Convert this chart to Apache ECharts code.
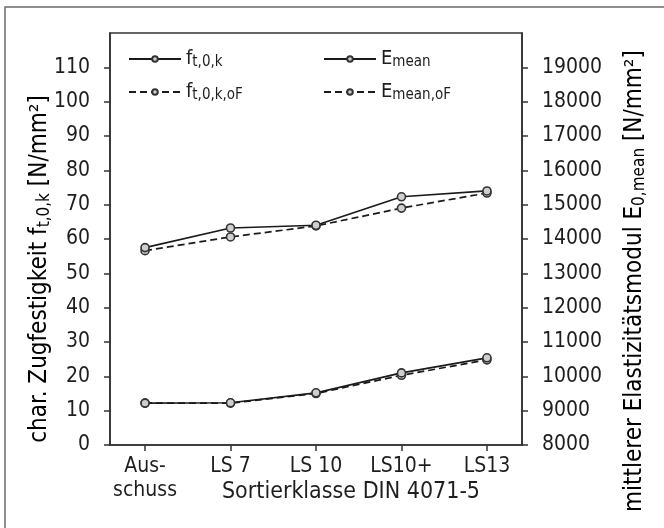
<!DOCTYPE html>
<html>
<head>
<meta charset="utf-8">
<script src="https://cdn.jsdelivr.net/npm/echarts@6/dist/echarts.min.js"></script>
<style>
  html, body { margin: 0; padding: 0; background: #fff; }
  #chart { width: 664px; height: 528px; }
</style>
</head>
<body>
<div id="chart"></div>
<script>
// Sorting classes and measured strength / stiffness values
const categories = ['Aus-\nschuss', 'LS 7', 'LS 10', 'LS10+', 'LS13'];
const categoryIndex = [0, 1, 2, 3, 4];
const ft0k = [12.2, 12.3, 15.2, 21.0, 25.4];
const ft0kOF = [12.2, 12.2, 15.0, 20.3, 24.8];
const eMean = [13750, 14320, 14400, 15230, 15400];
const eMeanOF = [13660, 14060, 14380, 14900, 15340];
const leftTicks = [0, 10, 20, 30, 40, 50, 60, 70, 80, 90, 100, 110];
const rightTicks = [8000, 9000, 10000, 11000, 12000, 13000, 14000, 15000, 16000, 17000, 18000, 19000];

const FONT = '"DejaVu Sans Condensed", "DejaVu Sans", sans-serif';
const INK = '#1e1e1e';
const AXIS = '#333';

const pairs = (vals) => vals.map((v, i) => [categoryIndex[i], v]);

// subscripts are pushed down by top padding inside the rich-text line
const legendRich = {
  m: { fontFamily: FONT, fontSize: 20, color: INK, lineHeight: 22 },
  s: { fontFamily: FONT, fontSize: 15, color: INK, lineHeight: 12, padding: [14, 0, 0, 0], verticalAlign: 'bottom' }
};

const titleRich = {
  m: { fontFamily: FONT, fontSize: 24, color: INK, lineHeight: 26 },
  s: { fontFamily: FONT, fontSize: 17, color: INK, lineHeight: 14, padding: [15, 0, 0, 0], verticalAlign: 'bottom' }
};

const legendLabels = {
  'f_t0k': '{m|f}{s|t,0,k}',
  'f_t0k_oF': '{m|f}{s|t,0,k,oF}',
  'E_mean': '{m|E}{s|mean}',
  'E_mean_oF': '{m|E}{s|mean,oF}'
};

function lineSeries(name, values, dashed, yIndex) {
  return {
    name: name,
    type: 'line',
    yAxisIndex: yIndex,
    data: pairs(values),
    symbol: 'circle',
    symbolSize: 8,
    showSymbol: true,
    itemStyle: { color: '#cfcfcf', borderColor: '#333', borderWidth: 1.6 },
    lineStyle: { color: '#1a1a1a', width: 1.7, type: dashed ? [7, 4] : 'solid' },
    emphasis: { disabled: true },
    animation: false,
    z: dashed ? 3 : 4
  };
}

function legendAt(name, left, top) {
  return {
    data: [name],
    left: left,
    top: top,
    itemWidth: 52,
    itemHeight: 7,
    itemGap: 8,
    padding: 0,
    selectedMode: false,
    formatter: (n) => legendLabels[n],
    textStyle: { rich: legendRich }
  };
}

const chart = echarts.init(document.getElementById('chart'), null, { renderer: 'canvas' });

chart.setOption({
  backgroundColor: '#fff',
  animation: false,
  grid: {
    left: 110, right: 142, top: 33, bottom: 83,
    show: true, borderColor: AXIS, borderWidth: 1.6, backgroundColor: 'transparent'
  },
  legend: [
    legendAt('f_t0k', 128, 41),
    legendAt('f_t0k_oF', 128, 74),
    legendAt('E_mean', 323, 41),
    legendAt('E_mean_oF', 323, 74)
  ],
  xAxis: {
    type: 'value',
    min: -0.41,
    max: 4.41,
    axisLine: { show: true, onZero: false, lineStyle: { color: AXIS, width: 1.6 } },
    axisTick: { show: true, length: 6, customValues: categoryIndex, lineStyle: { color: AXIS, width: 1.5 } },
    axisLabel: {
      customValues: categoryIndex,
      formatter: (v) => categories[Math.round(v)],
      fontFamily: FONT, fontSize: 21, color: INK, margin: 10, lineHeight: 24, verticalAlign: 'top'
    },
    splitLine: { show: false }
  },
  yAxis: [
    {
      type: 'value', position: 'left', min: 0, max: 120, interval: 10,
      axisLine: { show: true, onZero: false, lineStyle: { color: AXIS, width: 1.6 } },
      axisTick: { show: true, length: 6, customValues: leftTicks, lineStyle: { color: AXIS, width: 1.5 } },
      axisLabel: { customValues: leftTicks, fontFamily: FONT, fontSize: 21, color: INK, margin: 20 },
      splitLine: { show: false }
    },
    {
      type: 'value', position: 'right', min: 8000, max: 20000, interval: 1000,
      axisLine: { show: true, onZero: false, lineStyle: { color: AXIS, width: 1.6 } },
      axisTick: { show: true, length: 6, customValues: rightTicks, lineStyle: { color: AXIS, width: 1.5 } },
      axisLabel: {
        customValues: rightTicks, formatter: (v) => String(v),
        fontFamily: FONT, fontSize: 21, color: INK, margin: 20
      },
      splitLine: { show: false }
    }
  ],
  series: [
    lineSeries('f_t0k', ft0k, false, 0),
    lineSeries('f_t0k_oF', ft0kOF, true, 0),
    lineSeries('E_mean', eMean, false, 1),
    lineSeries('E_mean_oF', eMeanOF, true, 1)
  ],
  graphic: [
    {
      type: 'rect', silent: true, z: -10,
      shape: { x: 5, y: 7, width: 720, height: 600 },
      style: { fill: 'none', stroke: '#6a6a6a', lineWidth: 1.5 }
    },
    {
      type: 'text', silent: true,
      x: 40, y: 269, rotation: Math.PI / 2,
      style: {
        text: '{m|char. Zugfestigkeit f}{s|t,0,k}{m| [N/mm²]}',
        rich: titleRich, align: 'center', verticalAlign: 'middle'
      }
    },
    {
      type: 'text', silent: true,
      x: 635, y: 281, rotation: Math.PI / 2,
      style: {
        text: '{m|mittlerer Elastizitätsmodul E}{s|0,mean}{m| [N/mm²]}',
        rich: titleRich, align: 'center', verticalAlign: 'middle'
      }
    },
    {
      type: 'text', silent: true,
      x: 351, y: 492,
      style: {
        text: 'Sortierklasse DIN 4071-5',
        fontFamily: FONT, fontSize: 23, fill: INK, align: 'center', verticalAlign: 'middle'
      }
    }
  ]
});
</script>
</body>
</html>
